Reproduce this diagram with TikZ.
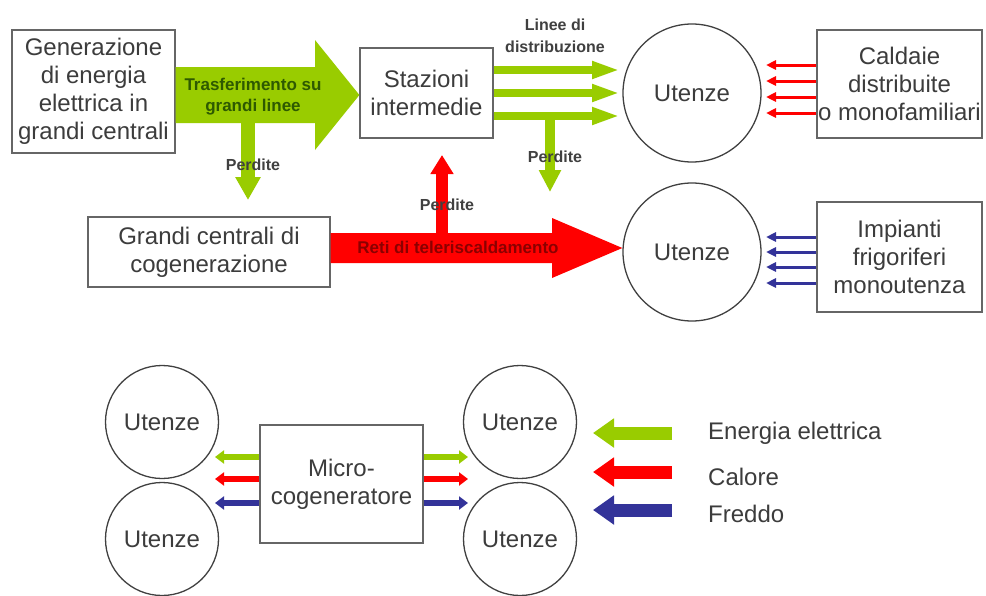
\documentclass[tikz,border=0pt]{standalone}
\usepackage{fontspec}
\setmainfont{Liberation Sans}
\usetikzlibrary{arrows.meta}
\definecolor{elgreen}{HTML}{99CC00}
\definecolor{heatred}{HTML}{FF0000}
\definecolor{coldblue}{HTML}{333399}
\definecolor{txt}{HTML}{3C3C3C}
\definecolor{dkgreen}{HTML}{2E5A00}
\definecolor{dkred}{HTML}{8B0000}
\begin{document}
\begin{tikzpicture}[x=1pt,y=-1pt,
  box/.style={draw=black!60, line width=1.2pt, fill=white, inner sep=0pt, align=center, text=txt, font=\fontsize{24}{28}\selectfont},
  user/.style={circle, draw=black!75, line width=1.3pt, minimum size=138pt, inner sep=0pt, text=txt, font=\fontsize{24}{28}\selectfont},
  usersmall/.style={user, minimum size=113pt},
  lab/.style={font=\bfseries\fontsize{16}{20}\selectfont, text=black!75, inner sep=0pt, align=center},
  legendtxt/.style={font=\fontsize{24}{28}\selectfont, text=txt, anchor=west, inner sep=0pt},
  thin/.style={line width=3pt, -{Triangle[length=10pt,width=9pt]}},
  micro/.style={line width=6pt, -{Triangle[length=9pt,width=13pt]}},
  legarrow/.style={line width=13pt, -{Triangle[length=21pt,width=28pt]}},
  distarrow/.style={line width=8pt, elgreen, -{Triangle[length=28pt,width=16pt]}}
]
\useasboundingbox (0,0) rectangle (986,595);
\fill[white] (0,0) rectangle (986,595);

% ---- nodes
\node[box, minimum width=163pt, minimum height=123pt] (gen) at (93.5,91.5)
  {Generazione\\di energia\\elettrica in\\grandi centrali};
\node[box, minimum width=133pt, minimum height=90pt] (stz) at (426.5,93)
  {Stazioni\\intermedie};
\node[user] (ut1) at (692,93) {Utenze};
\node[user] (ut2) at (692,252) {Utenze};
\node[box, minimum width=165pt, minimum height=108pt] (cal) at (899.5,84)
  {Caldaie\\distribuite\\o monofamiliari};
\node[box, minimum width=165pt, minimum height=110pt] (imp) at (899.5,257)
  {Impianti\\frigoriferi\\monoutenza};
\node[box, minimum width=242pt, minimum height=70pt] (gcc) at (209,252)
  {Grandi centrali di\\cogenerazione};

% ---- big green transfer arrow
\fill[elgreen] (gen.east |- 0,67) -- (315,67) -- (315,40) -- (stz.west |- 0,95)
  -- (315,150) -- (315,123) -- (gen.east |- 0,123) -- cycle;
\coordinate (loss1) at (248,200);
\draw[elgreen, line width=14pt, -{Triangle[length=23pt,width=24pt]}] (248,118) -- (loss1);

% ---- distribution lines
\draw[distarrow] (stz.east |- 0,70) -- (620,70);
\draw[distarrow] (stz.east |- 0,93) -- (620,93);
\draw[distarrow] (stz.east |- 0,116) -- (620,116);
\coordinate (loss2) at (550,192);
\draw[elgreen, line width=10pt, -{Triangle[length=22pt,width=21pt]}] (550,112) -- (loss2);

% ---- red district heating arrow
\fill[heatred] (gcc.east |- 0,233) -- (552,233) -- (552,218) -- (ut2.west |- 0,248)
  -- (552,278) -- (552,263) -- (gcc.east |- 0,263) -- cycle;
\coordinate (loss3) at (442,155);
\draw[heatred, line width=12pt, -{Triangle[length=19pt,width=22pt]}] (442,238) -- (loss3);

% ---- labels on arrows
\node[lab, text=dkgreen, font=\bfseries\fontsize{17}{21}\selectfont] (trl) at (253,97) {Trasferimento su\\grandi linee};
\node[lab] (p1) at (253,165) {Perdite};
\node[lab] (p2) at (555,157) {Perdite};
\node[lab] (p3) at (447,205) {Perdite};
\node[lab, font=\bfseries\fontsize{16}{22}\selectfont] (ldist) at (555,36) {Linee di\\distribuzione};
\node[lab, text=dkred, font=\bfseries\fontsize{17}{21}\selectfont] (reti) at (458,247) {Reti di teleriscaldamento};

% ---- boilers / chillers
\foreach \yy in {65,81,97,113} \draw[thin, heatred] (cal.west |- 0,\yy) -- (766,\yy);
\foreach \yy in {237,252,267,283} \draw[thin, coldblue] (imp.west |- 0,\yy) -- (766,\yy);

% ---- micro-cogeneration
\node[usersmall] (ua) at (162,422) {Utenze};
\node[usersmall] (ub) at (162,539) {Utenze};
\node[usersmall] (uc) at (520,422) {Utenze};
\node[usersmall] (ud) at (520,539) {Utenze};
\node[box, minimum width=163pt, minimum height=118pt] (mic) at (341.5,484)
  {Micro-\\cogeneratore};
\draw[micro, elgreen] (mic.west |- 0,457) -- (215,457);
\draw[micro, heatred] (mic.west |- 0,479) -- (215,479);
\draw[micro, coldblue] (mic.west |- 0,503) -- (215,503);
\draw[micro, elgreen] (mic.east |- 0,457) -- (468,457);
\draw[micro, heatred] (mic.east |- 0,479) -- (468,479);
\draw[micro, coldblue] (mic.east |- 0,503) -- (468,503);

% ---- legend
\node[legendtxt] (le) at (708,433) {Energia elettrica};
\node[legendtxt] (lc) at (708,477) {Calore};
\node[legendtxt] (lf) at (708,514) {Freddo};
\draw[legarrow, elgreen] (672,433) -- (593,433);
\draw[legarrow, heatred] (672,472) -- (593,472);
\draw[legarrow, coldblue] (672,510) -- (593,510);
\end{tikzpicture}
\end{document}
